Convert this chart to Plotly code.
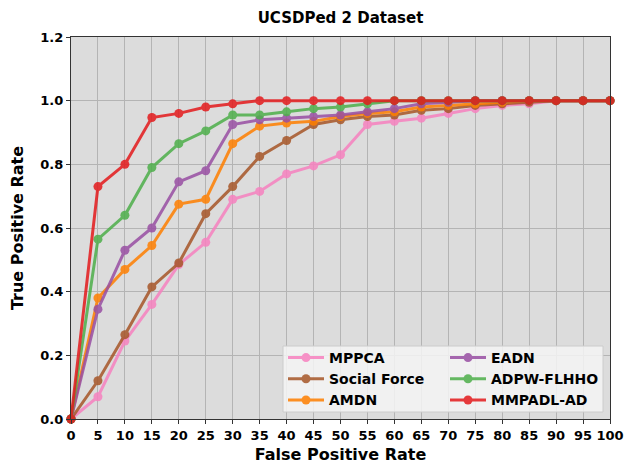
import plotly.graph_objects as go

fpr = [0, 5, 10, 15, 20, 25, 30, 35, 40, 45, 50, 55, 60, 65, 70, 75, 80, 85, 90, 95, 100]

mppca = [0, 0.07, 0.245, 0.36, 0.485, 0.555, 0.69, 0.715, 0.77, 0.795, 0.83, 0.925, 0.935, 0.945, 0.96, 0.975, 0.985, 0.99, 1.0, 1.0, 1.0]
social_force = [0, 0.12, 0.265, 0.415, 0.49, 0.645, 0.73, 0.825, 0.875, 0.925, 0.94, 0.95, 0.955, 0.97, 0.975, 0.985, 0.99, 0.995, 1.0, 1.0, 1.0]
amdn = [0, 0.38, 0.47, 0.545, 0.675, 0.69, 0.865, 0.92, 0.93, 0.935, 0.95, 0.96, 0.965, 0.98, 0.985, 0.99, 0.995, 1.0, 1.0, 1.0, 1.0]
eadn = [0, 0.345, 0.53, 0.60, 0.745, 0.78, 0.925, 0.94, 0.945, 0.95, 0.955, 0.965, 0.975, 0.99, 0.995, 1.0, 1.0, 1.0, 1.0, 1.0, 1.0]
adpw = [0, 0.565, 0.64, 0.79, 0.865, 0.905, 0.955, 0.955, 0.965, 0.975, 0.98, 0.99, 1.0, 1.0, 1.0, 1.0, 1.0, 1.0, 1.0, 1.0, 1.0]
mmpadl = [0, 0.73, 0.80, 0.947, 0.96, 0.98, 0.99, 1.0, 1.0, 1.0, 1.0, 1.0, 1.0, 1.0, 1.0, 1.0, 1.0, 1.0, 1.0, 1.0, 1.0]

names = ["MPPCA", "Social Force", "AMDN", "EADN", "ADPW-FLHHO", "MMPADL-AD"]
series = [mppca, social_force, amdn, eadn, adpw, mmpadl]
colors = ["#f781bf", "#a65628", "#ff7f00", "#984ea3", "#4daf4a", "#e41a1c"]
legends = ["legend", "legend", "legend", "legend2", "legend2", "legend2"]

x_ticks = list(range(0, 101, 5))
y_ticks = [0.0, 0.2, 0.4, 0.6, 0.8, 1.0, 1.2]

fig = go.Figure()
for name, ys, c, lg in zip(names, series, colors, legends):
    fig.add_trace(go.Scatter(
        x=fpr, y=ys, name=name, mode="lines+markers",
        line=dict(color=c, width=3), marker=dict(color=c, size=9),
        opacity=0.85, legend=lg, cliponaxis=False,
    ))

legfont = dict(family="DejaVu Sans", size=14, color="black", weight="bold")
tickfont = dict(family="DejaVu Sans", size=13, color="black", weight="bold")
titlefont = dict(family="DejaVu Sans", size=16, color="black")

fig.update_layout(
    width=624, height=465,
    margin=dict(l=71, r=14, t=37, b=46, autoexpand=False),
    paper_bgcolor="white", plot_bgcolor="#dcdcdc",
    title=dict(text="<b>UCSDPed 2 Dataset</b>", x=0.5, xanchor="center", xref="paper",
               y=1 - 18 / 465, yanchor="middle", font=dict(family="DejaVu Sans", size=15, color="black")),
    xaxis=dict(range=[0, 100], tickvals=x_ticks, ticktext=[str(t) for t in x_ticks],
               tickfont=tickfont, automargin=False,
               showgrid=True, gridcolor="#b4b4b4", gridwidth=1,
               showline=True, linecolor="#333333", linewidth=1.2, mirror=True,
               ticks="outside", ticklen=4, tickcolor="#333333", zeroline=False,
               title=dict(text="<b>False Positive Rate</b>", font=titlefont, standoff=7)),
    yaxis=dict(range=[0, 1.2], tickvals=y_ticks, ticktext=["%.1f" % t for t in y_ticks],
               tickfont=tickfont, automargin=False,
               showgrid=True, gridcolor="#b4b4b4", gridwidth=1,
               showline=True, linecolor="#333333", linewidth=1.2, mirror=True,
               ticks="outside", ticklen=4, tickcolor="#333333", zeroline=False,
               title=dict(text="<b>True Positive Rate</b>", font=titlefont, standoff=12)),
    legend=dict(x=(283 - 71) / 539, y=(419 - 342) / 382, xanchor="left", yanchor="top",
                bgcolor="rgba(0,0,0,0)", font=legfont, tracegroupgap=0, itemwidth=36),
    legend2=dict(x=(445 - 71) / 539, y=(419 - 342) / 382, xanchor="left", yanchor="top",
                 bgcolor="rgba(0,0,0,0)", font=legfont, tracegroupgap=0, itemwidth=36),
    shapes=[dict(type="rect", xref="paper", yref="paper",
                 x0=(283 - 71) / 539, x1=(603 - 71) / 539,
                 y0=(419 - 412) / 382, y1=(419 - 346) / 382,
                 fillcolor="rgba(245,245,245,0.85)", line=dict(color="#cccccc", width=1),
                 layer="above")],
)

fig.write_html("out.html")
